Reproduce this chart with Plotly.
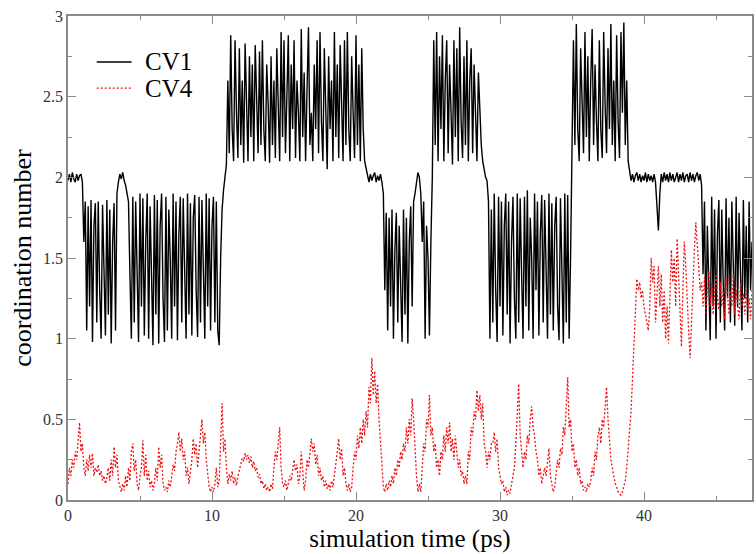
import numpy as np
import plotly.graph_objects as go

DT = 0.1  # sampling interval of the trajectory (ps)

# CV1 coordination number, one list per 10 ps block
cv1_00 = [1.98, 2.02, 1.97, 2.03, 1.99, 1.97, 2.02, 1.98, 2.01, 2.02,
          1.97, 1.60, 1.85, 1.05, 1.82, 1.20, 1.86, 0.98, 1.70, 1.84,
          1.10, 1.85, 1.30, 1.00, 1.83, 1.50, 1.02, 1.86, 1.15, 1.80,
          0.97, 1.60, 1.84, 1.05, 1.90, 1.97, 2.02, 1.99, 2.03, 1.98,
          1.95, 1.90, 1.85, 1.40, 1.00, 1.88, 1.10, 1.85, 1.30, 0.98,
          1.90, 1.20, 1.87, 1.02, 1.60, 1.90, 1.00, 1.82, 1.40, 0.96,
          1.89, 1.15, 1.86, 0.97, 1.70, 1.90, 1.25, 0.98, 1.88, 1.05,
          1.80, 1.50, 1.00, 1.90, 1.20, 1.85, 0.99, 1.65, 1.88, 1.10,
          1.87, 1.35, 1.00, 1.90, 1.15, 1.84, 1.02, 1.75, 1.89, 1.30,
          1.01, 1.88, 1.10, 1.86, 1.45, 1.00, 1.90, 1.20, 1.87, 1.05]
cv1_10 = [1.70, 1.88, 1.10, 1.85, 1.05, 0.96, 1.50, 1.80, 1.92, 2.02,
          2.08, 2.60, 2.15, 2.88, 2.30, 2.10, 2.85, 2.40, 2.12, 2.80,
          2.20, 2.60, 2.09, 2.83, 2.35, 2.10, 2.75, 2.25, 2.70, 2.10,
          2.82, 2.40, 2.15, 2.78, 2.20, 2.85, 2.30, 2.10, 2.70, 2.45,
          2.09, 2.75, 2.20, 2.60, 2.12, 2.80, 2.35, 2.10, 2.90, 2.25,
          2.85, 2.15, 2.50, 2.88, 2.10, 2.70, 2.30, 2.85, 2.12, 2.60,
          2.40, 2.10, 2.92, 2.25, 2.65, 2.10, 2.55, 2.93, 2.20, 2.40,
          2.10, 2.70, 2.30, 2.85, 2.15, 2.90, 2.35, 2.10, 2.80, 2.40,
          2.05, 2.75, 2.30, 2.60, 2.10, 2.90, 2.25, 2.70, 2.12, 2.82,
          2.35, 2.10, 2.85, 2.20, 2.90, 2.30, 2.10, 2.75, 2.40, 2.12]
cv1_20 = [2.88, 2.20, 2.70, 2.10, 2.80, 2.30, 2.10, 2.05, 2.01, 1.97,
          2.02, 1.98, 2.01, 2.03, 1.97, 2.01, 1.98, 2.02, 1.97, 1.90,
          1.30, 1.78, 1.05, 1.75, 1.20, 1.80, 1.00, 1.55, 1.78, 1.10,
          1.70, 1.30, 0.98, 1.80, 1.15, 1.75, 0.97, 1.60, 1.82, 1.20,
          1.85, 1.90, 1.98, 2.03, 2.00, 1.90, 1.60, 1.85, 1.00, 1.70,
          1.50, 1.02, 1.60, 2.00, 2.85, 2.20, 2.90, 2.10, 2.75, 2.30,
          2.88, 2.10, 2.60, 2.85, 2.15, 2.70, 2.40, 2.08, 2.85, 2.25,
          2.80, 2.10, 2.93, 2.35, 2.12, 2.75, 2.20, 2.85, 2.10, 2.60,
          2.80, 2.15, 2.70, 2.30, 2.10, 2.65, 2.40, 2.20, 2.10, 2.05,
          2.00, 1.98, 1.85, 1.00, 1.80, 1.10, 1.90, 1.30, 0.98, 1.88]
cv1_30 = [1.20, 1.85, 1.02, 1.70, 1.90, 1.15, 1.85, 0.97, 1.60, 1.88,
          1.25, 1.00, 1.90, 1.10, 1.87, 1.40, 1.00, 1.88, 1.20, 1.92,
          1.05, 1.75, 1.50, 1.00, 1.90, 1.30, 1.85, 1.02, 1.65, 1.89,
          1.10, 1.86, 1.35, 1.00, 1.90, 1.15, 1.84, 1.05, 1.70, 1.88,
          1.20, 0.99, 1.87, 1.30, 0.97, 1.90, 1.10, 1.89, 1.00, 1.50,
          2.10, 2.85, 2.20, 2.95, 2.30, 2.10, 2.80, 2.40, 2.15, 2.90,
          2.25, 2.75, 2.10, 2.60, 2.92, 2.20, 2.70, 2.35, 2.10, 2.85,
          2.30, 2.12, 2.90, 2.45, 2.15, 2.80, 2.30, 2.95, 2.20, 2.60,
          2.10, 2.88, 2.35, 2.12, 2.90, 2.40, 2.96, 2.20, 2.60, 2.10,
          2.03, 1.98, 2.02, 1.97, 2.01, 2.03, 1.98, 2.02, 1.97, 2.01]
cv1_40 = [1.98, 2.03, 1.97, 2.02, 1.98, 2.01, 1.97, 2.02, 1.97, 1.85,
          1.67, 1.90, 2.02, 1.97, 2.03, 1.98, 2.02, 1.97, 2.03, 1.98,
          2.02, 1.97, 2.01, 2.03, 1.97, 2.02, 1.98, 2.03, 1.97, 2.01,
          2.02, 1.97, 2.03, 1.98, 2.02, 1.97, 2.01, 2.03, 1.98, 2.02,
          1.95, 1.40, 1.85, 1.05, 1.70, 1.30, 0.99, 1.88, 1.20, 1.80,
          1.00, 1.65, 1.86, 1.10, 1.80, 1.35, 1.05, 1.87, 1.25, 1.75,
          1.10, 1.85, 1.40, 1.08, 1.88, 1.20, 1.78, 1.30, 1.05, 1.86,
          1.25, 1.70, 1.10, 1.85, 1.30, 1.60]

# CV4 coordination number, same blocks
cv4_00 = [0.10, 0.20, 0.15, 0.25, 0.20, 0.30, 0.25, 0.40, 0.48, 0.30,
          0.35, 0.20, 0.15, 0.25, 0.18, 0.28, 0.20, 0.29, 0.15, 0.20,
          0.17, 0.22, 0.15, 0.18, 0.12, 0.15, 0.10, 0.14, 0.20, 0.12,
          0.25, 0.15, 0.33, 0.20, 0.28, 0.12, 0.08, 0.05, 0.10, 0.06,
          0.15, 0.08, 0.20, 0.12, 0.30, 0.35, 0.18, 0.25, 0.10, 0.06,
          0.15, 0.20, 0.37, 0.15, 0.28, 0.12, 0.18, 0.08, 0.12, 0.06,
          0.10, 0.20, 0.12, 0.33, 0.20, 0.28, 0.10, 0.06, 0.08, 0.05,
          0.12, 0.08, 0.15, 0.22, 0.18, 0.30, 0.35, 0.42, 0.30, 0.38,
          0.25, 0.30, 0.15, 0.20, 0.10, 0.18, 0.25, 0.38, 0.28, 0.35,
          0.20, 0.30, 0.40, 0.50, 0.35, 0.42, 0.25, 0.15, 0.08, 0.05]
cv4_10 = [0.08, 0.05, 0.10, 0.20, 0.08, 0.12, 0.35, 0.60, 0.30, 0.38,
          0.20, 0.10, 0.16, 0.12, 0.18, 0.10, 0.14, 0.09, 0.15, 0.18,
          0.22, 0.26, 0.24, 0.29, 0.25, 0.28, 0.23, 0.27, 0.20, 0.24,
          0.18, 0.20, 0.14, 0.16, 0.10, 0.12, 0.07, 0.10, 0.06, 0.08,
          0.05, 0.10, 0.07, 0.20, 0.30, 0.25, 0.38, 0.45, 0.20, 0.10,
          0.08, 0.12, 0.06, 0.10, 0.15, 0.12, 0.20, 0.25, 0.18, 0.22,
          0.10, 0.15, 0.30, 0.20, 0.06, 0.12, 0.25, 0.20, 0.30, 0.38,
          0.30, 0.35, 0.22, 0.28, 0.15, 0.20, 0.12, 0.15, 0.08, 0.12,
          0.07, 0.10, 0.06, 0.12, 0.08, 0.15, 0.20, 0.30, 0.38, 0.25,
          0.32, 0.15, 0.20, 0.10, 0.06, 0.10, 0.05, 0.08, 0.20, 0.30]
cv4_20 = [0.25, 0.40, 0.32, 0.45, 0.35, 0.50, 0.40, 0.55, 0.45, 0.70,
          0.60, 0.88, 0.65, 0.80, 0.60, 0.72, 0.50, 0.35, 0.20, 0.08,
          0.05, 0.10, 0.06, 0.12, 0.08, 0.15, 0.10, 0.20, 0.15, 0.25,
          0.20, 0.30, 0.25, 0.35, 0.30, 0.45, 0.35, 0.50, 0.40, 0.63,
          0.50, 0.30, 0.15, 0.05, 0.10, 0.05, 0.20, 0.35, 0.30, 0.50,
          0.45, 0.65, 0.40, 0.45, 0.30, 0.35, 0.20, 0.25, 0.15, 0.30,
          0.25, 0.40, 0.30, 0.45, 0.35, 0.48, 0.30, 0.38, 0.25, 0.40,
          0.30, 0.20, 0.25, 0.15, 0.18, 0.10, 0.15, 0.10, 0.30, 0.25,
          0.45, 0.40, 0.55, 0.50, 0.68, 0.55, 0.65, 0.50, 0.60, 0.35,
          0.30, 0.20, 0.30, 0.25, 0.35, 0.35, 0.42, 0.30, 0.38, 0.20]
cv4_30 = [0.15, 0.10, 0.12, 0.05, 0.08, 0.03, 0.06, 0.04, 0.10, 0.15,
          0.20, 0.35, 0.50, 0.72, 0.40, 0.30, 0.20, 0.30, 0.25, 0.40,
          0.35, 0.50, 0.58, 0.45, 0.40, 0.30, 0.25, 0.15, 0.20, 0.10,
          0.15, 0.20, 0.15, 0.25, 0.32, 0.15, 0.10, 0.05, 0.08, 0.15,
          0.25, 0.20, 0.32, 0.28, 0.45, 0.40, 0.55, 0.76, 0.45, 0.50,
          0.30, 0.35, 0.20, 0.25, 0.15, 0.20, 0.10, 0.12, 0.06, 0.08,
          0.05, 0.10, 0.08, 0.12, 0.20, 0.15, 0.30, 0.25, 0.40, 0.45,
          0.35, 0.50, 0.45, 0.60, 0.70, 0.50, 0.35, 0.25, 0.20, 0.15,
          0.10, 0.08, 0.05, 0.04, 0.03, 0.05, 0.08, 0.12, 0.20, 0.30,
          0.40, 0.55, 0.75, 1.00, 1.25, 1.37, 1.30, 1.35, 1.25, 1.30]
cv4_40 = [1.20, 1.15, 1.10, 1.05, 1.20, 1.50, 1.35, 1.45, 1.10, 1.30,
          1.45, 1.20, 1.40, 1.10, 1.30, 1.00, 1.20, 0.97, 1.30, 1.55,
          1.35, 1.50, 1.20, 1.62, 1.40, 1.20, 0.95, 1.30, 1.60, 1.45,
          1.20, 1.05, 0.88, 1.10, 1.40, 1.55, 1.72, 1.60, 1.45, 1.30,
          1.35, 1.20, 1.38, 1.15, 1.30, 1.42, 1.20, 1.35, 1.15, 1.28,
          1.40, 1.25, 1.18, 1.35, 1.20, 1.30, 1.12, 1.38, 1.25, 1.15,
          1.30, 1.20, 1.40, 1.15, 1.30, 1.22, 1.12, 1.35, 1.20, 1.28,
          1.15, 1.30, 1.18, 1.25, 1.12, 1.30]

series_names = ["CV1", "CV4"]
x_ticks = [0, 10, 20, 30, 40]
y_ticks = [0, 0.5, 1, 1.5, 2, 2.5, 3]

cv1 = np.array(cv1_00 + cv1_10 + cv1_20 + cv1_30 + cv1_40)
cv4 = np.array(cv4_00 + cv4_10 + cv4_20 + cv4_30 + cv4_40)
t1 = np.round(np.arange(len(cv1)) * DT, 2)
t4 = np.round(np.arange(len(cv4)) * DT, 2)

SERIF = "Liberation Serif, Times New Roman, serif"
FRAME = "#8a8a8a"
BLACK_LINE = dict(color="black", width=1.4)
RED_LINE = dict(color="#ee1111", width=1.3, dash="2px,2px")

fig = go.Figure()
fig.add_trace(go.Scatter(x=t1, y=cv1, mode="lines", name=series_names[0],
                         line=BLACK_LINE, showlegend=False))
fig.add_trace(go.Scatter(x=t4, y=cv4, mode="lines", name=series_names[1],
                         line=RED_LINE, showlegend=False))

# legend box in the upper-left corner: sample line plus label for each series
legend_rows = [(0.905, BLACK_LINE), (0.851, RED_LINE)]
for name, (ly, style) in zip(series_names, legend_rows):
    fig.add_shape(type="line", xref="paper", yref="paper",
                  x0=0.042, x1=0.093, y0=ly, y1=ly, line=style)
    fig.add_annotation(xref="paper", yref="paper", x=0.110, y=ly,
                       xanchor="left", yanchor="middle", text=name, showarrow=False,
                       font=dict(family=SERIF, size=25, color="black"))

axis_common = dict(
    showline=True, linecolor=FRAME, linewidth=1.5, mirror="ticks",
    ticks="inside", tickcolor=FRAME, tickwidth=1.2, ticklen=8,
    showgrid=False, zeroline=False,
    tickfont=dict(family=SERIF, size=16, color="#333"),
)

fig.update_layout(
    width=756, height=554,
    margin=dict(l=68, r=2, t=16, b=54),
    paper_bgcolor="white", plot_bgcolor="white",
    showlegend=False,
    xaxis=dict(range=[0, 47.5], tickvals=x_ticks,
               minor=dict(dtick=5, tick0=0, ticks="inside", ticklen=4, tickcolor=FRAME),
               title=dict(text="simulation time (ps)", standoff=7,
                          font=dict(family=SERIF, size=25, color="black")),
               **axis_common),
    yaxis=dict(range=[0, 3], tickvals=y_ticks,
               minor=dict(dtick=0.25, tick0=0, ticks="inside", ticklen=4, tickcolor=FRAME),
               title=dict(text="coordination number", standoff=4,
                          font=dict(family=SERIF, size=26, color="black")),
               **axis_common),
)

fig.write_html("out.html")
